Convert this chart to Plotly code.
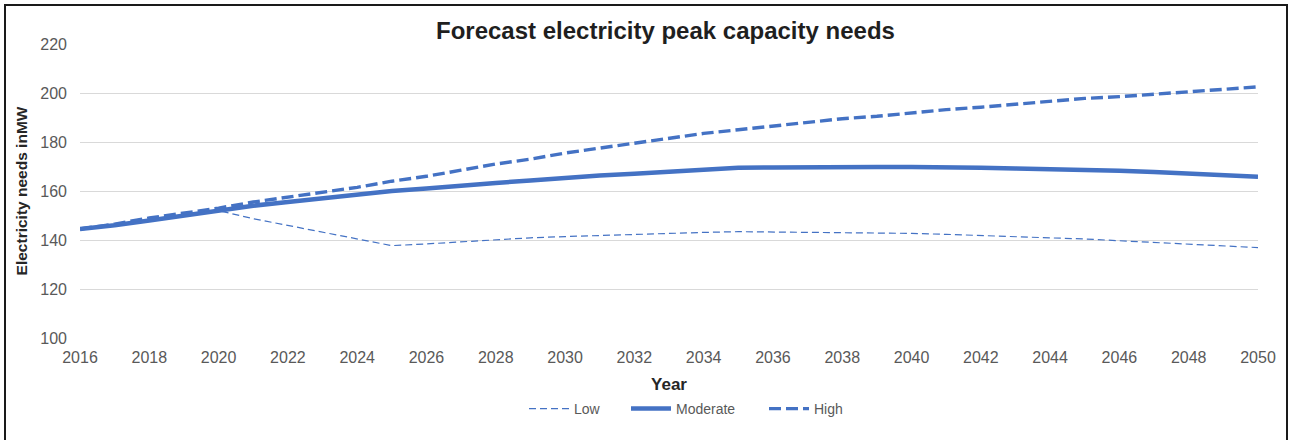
import plotly.graph_objects as go

# Forecast years and peak capacity scenarios (MW)
years = list(range(2016, 2051))

low = [144.5, 146.0, 148.3, 150.3, 152.0, 148.7, 146.0, 143.2, 140.5, 137.7,
       138.4, 139.3, 140.3, 140.9, 141.4, 141.9, 142.3, 142.7, 143.1, 143.4,
       143.3, 143.2, 143.1, 142.9, 142.7, 142.3, 141.9, 141.5, 141.0, 140.4,
       139.7, 139.0, 138.3, 137.6, 136.9]

moderate = [144.5, 146.0, 148.0, 150.0, 152.2, 154.0, 155.5, 157.0, 158.5, 160.0,
            161.0, 162.3, 163.3, 164.3, 165.5, 166.3, 167.0, 167.8, 168.5, 169.5,
            169.6, 169.8, 169.8, 169.8, 169.8, 169.8, 169.5, 169.2, 169.0, 168.9,
            168.3, 167.8, 167.0, 166.2, 165.8]

high = [144.5, 146.5, 149.0, 151.0, 153.0, 155.5, 157.5, 159.5, 161.5, 164.0,
        166.0, 168.5, 171.0, 173.0, 175.5, 177.5, 179.5, 181.5, 183.5, 185.0,
        186.5, 188.0, 189.5, 190.5, 192.0, 193.2, 194.2, 195.5, 196.8, 197.8,
        198.5, 199.5, 200.5, 201.5, 202.5]

x_ticks = list(range(2016, 2051, 2))
y_ticks = list(range(100, 221, 20))

BLUE = "#4472C4"
FONT = "Liberation Sans, Arial, sans-serif"
GREY_TEXT = "#595959"

W, H = 1290, 440
ML, MR, MT, MB = 80, 32, 44, 102
PW, PH = W - ML - MR, H - MT - MB


def px_to_paper_x(px):
    return (px - ML) / PW


def px_to_paper_y(py):
    return (H - MB - py) / PH


fig = go.Figure()

fig.add_trace(go.Scatter(
    x=years, y=low, name="Low", mode="lines", legend="legend",
    line=dict(color=BLUE, width=1.2, dash="7px,4px"),
))
fig.add_trace(go.Scatter(
    x=years, y=moderate, name="Moderate", mode="lines", legend="legend2",
    line=dict(color=BLUE, width=4.5),
))
fig.add_trace(go.Scatter(
    x=years, y=high, name="High", mode="lines", legend="legend3",
    line=dict(color=BLUE, width=3.4, dash="12px,5px"),
))

# outer chart frame
fig.add_shape(
    type="rect", xref="paper", yref="paper",
    x0=px_to_paper_x(5), x1=px_to_paper_x(1287),
    y0=px_to_paper_y(448), y1=px_to_paper_y(5),
    line=dict(color="#1a1a1a", width=2), fillcolor="rgba(0,0,0,0)",
    layer="below",
)


def legend_at(left_px):
    return dict(
        orientation="h", x=px_to_paper_x(left_px), xanchor="left",
        y=px_to_paper_y(409), yanchor="middle",
        font=dict(family=FONT, size=14, color=GREY_TEXT),
        itemwidth=40, bgcolor="rgba(0,0,0,0)",
    )


fig.update_layout(
    width=W, height=H,
    margin=dict(l=ML, r=MR, t=MT, b=MB),
    paper_bgcolor="white", plot_bgcolor="white",
    font=dict(family=FONT, color=GREY_TEXT, size=16),
    title=dict(
        text="<b>Forecast electricity peak capacity needs</b>",
        x=0.497, xref="paper", xanchor="center",
        y=1 - 31 / H, yref="container", yanchor="middle",
        font=dict(family=FONT, size=24, color="#1f1f1f"),
    ),
    xaxis=dict(
        range=[2016, 2050], tickvals=x_ticks, ticktext=[str(v) for v in x_ticks],
        showgrid=False, zeroline=False, showline=False, ticks="",
        ticklabelstandoff=8,
        title=dict(text="<b>Year</b>", font=dict(family=FONT, size=17, color="#262626"),
                   standoff=13),
    ),
    yaxis=dict(
        range=[100, 220], tickvals=y_ticks,
        showgrid=True, gridcolor="#D9D9D9", gridwidth=1,
        zeroline=False, showline=False, ticks="",
        ticklabelstandoff=12,
        title=dict(text="<b>Electricity needs inMW</b>",
                   font=dict(family=FONT, size=15.5, color="#262626"), standoff=8),
    ),
    legend=legend_at(524),
    legend2=legend_at(626),
    legend3=legend_at(764),
    showlegend=True,
)

fig.write_html("out.html")
